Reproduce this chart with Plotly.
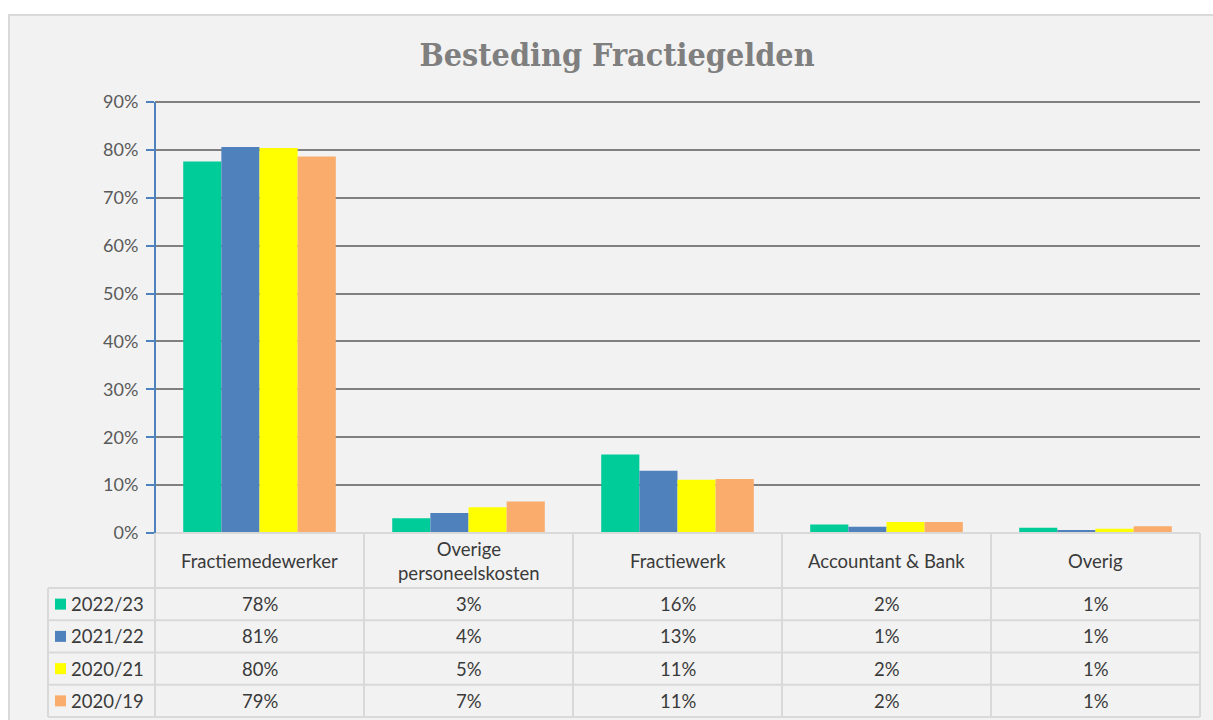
import plotly.graph_objects as go

# ---- data ----
categories = ["Fractiemedewerker", "Overige personeelskosten", "Fractiewerk",
              "Accountant & Bank", "Overig"]
category_labels = ["Fractiemedewerker", "Overige<br>personeelskosten", "Fractiewerk",
                   "Accountant & Bank", "Overig"]
series_names = ["2022/23", "2021/22", "2020/21", "2020/19"]
v_2022_23 = [0.776, 0.031, 0.164, 0.018, 0.011]
v_2021_22 = [0.806, 0.042, 0.130, 0.013, 0.006]
v_2020_21 = [0.804, 0.054, 0.111, 0.023, 0.009]
v_2020_19 = [0.786, 0.066, 0.113, 0.023, 0.014]
series_values = [v_2022_23, v_2021_22, v_2020_21, v_2020_19]
colors = ["#00cc99", "#4f81bd", "#ffff00", "#f9ac6b"]
y_ticks = [0, 0.1, 0.2, 0.3, 0.4, 0.5, 0.6, 0.7, 0.8, 0.9]

W, H = 1213, 720
def PX(x):
    return x / W
def PY(y):
    return 1 - y / H

PLOT_L, PLOT_R, PLOT_T, PLOT_B = 155, 1200, 102, 533
Y_MAX = 0.9
Y_TOP = 0.903  # tiny headroom so the 90% gridline is not clipped
PLOT_T_EXT = PLOT_B - (PLOT_B - PLOT_T) * Y_TOP / Y_MAX
LEG_L = 48
HEADER_B = 588
ROW_H = 32.25
TXT = "#3a3a3a"
BORDER = "#d9d9d9"
FONT = "Lato, 'Open Sans', sans-serif"
FS = 18.5

fig = go.Figure()
for name, vals, col in zip(series_names, series_values, colors):
    fig.add_trace(go.Bar(x=categories, y=vals, name=name, marker_color=col,
                         marker_line_width=0, showlegend=False))

shapes = []
# chart area background
shapes.append(dict(type="rect", xref="paper", yref="paper", x0=PX(9), x1=PX(1240),
                   y0=PY(740), y1=PY(15), fillcolor="#f2f2f2",
                   line=dict(color="#d9d9d9", width=2), layer="below"))

annotations = []
n = len(categories)
cw = (PLOT_R - PLOT_L) / n
# header row borders
shapes.append(dict(type="line", xref="paper", yref="paper", x0=PX(PLOT_L), x1=PX(PLOT_R),
                   y0=PY(PLOT_B), y1=PY(PLOT_B), line=dict(color=BORDER, width=2)))
table_bottom = HEADER_B + ROW_H * len(series_names)
for j in range(n + 1):
    xb = PLOT_L + j * cw
    shapes.append(dict(type="line", xref="paper", yref="paper", x0=PX(xb), x1=PX(xb),
                       y0=PY(PLOT_B), y1=PY(table_bottom), line=dict(color=BORDER, width=2)))
shapes.append(dict(type="line", xref="paper", yref="paper", x0=PX(LEG_L), x1=PX(LEG_L),
                   y0=PY(HEADER_B), y1=PY(table_bottom), line=dict(color=BORDER, width=2)))
for i in range(len(series_names) + 1):
    yb = HEADER_B + i * ROW_H
    shapes.append(dict(type="line", xref="paper", yref="paper", x0=PX(LEG_L), x1=PX(PLOT_R),
                       y0=PY(yb), y1=PY(yb), line=dict(color=BORDER, width=2)))

# category labels
for cat, lab in zip(categories, category_labels):
    annotations.append(dict(x=cat, xref="x", y=PY((PLOT_B + HEADER_B) / 2), yref="paper",
                            text=lab, showarrow=False, xanchor="center", yanchor="middle",
                            font=dict(family=FONT, size=FS, color=TXT)))
# rows
for i, (name, vals, col) in enumerate(zip(series_names, series_values, colors)):
    yc = HEADER_B + (i + 0.5) * ROW_H
    shapes.append(dict(type="rect", xref="paper", yref="paper", x0=PX(55), x1=PX(66),
                       y0=PY(yc + 5.5), y1=PY(yc - 5.5), fillcolor=col, line=dict(width=0)))
    annotations.append(dict(x=PX(69), xref="paper", y=PY(yc), yref="paper", text=name,
                            showarrow=False, xanchor="left", yanchor="middle",
                            font=dict(family=FONT, size=FS, color=TXT)))
    for cat, v in zip(categories, vals):
        annotations.append(dict(x=cat, xref="x", y=PY(yc), yref="paper", text=f"{v:.0%}",
                                showarrow=False, xanchor="center", yanchor="middle",
                                font=dict(family=FONT, size=FS, color=TXT)))

fig.update_layout(
    width=W, height=H, autosize=False,
    margin=dict(l=0, r=0, t=0, b=0, autoexpand=False),
    paper_bgcolor="white", plot_bgcolor="rgba(0,0,0,0)",
    title=dict(text="<b>Besteding Fractiegelden</b>", x=PX(617), xanchor="center",
               y=PY(55), yanchor="middle", automargin=False,
               font=dict(family="'DejaVu Serif Condensed', 'Liberation Serif', serif",
                         size=32, color="#7f7f7f")),
    barmode="group", bargap=0.27, bargroupgap=0,
    xaxis=dict(domain=[PX(PLOT_L), PX(PLOT_R)], range=[-0.5, n - 0.5], automargin=False,
               showticklabels=False, showgrid=False, zeroline=False, showline=False,
               ticks="", fixedrange=True),
    yaxis=dict(domain=[PY(PLOT_B), PY(PLOT_T_EXT)], range=[0, Y_TOP], tickvals=y_ticks,
               automargin=False,
               tickformat=".0%", showgrid=True, gridcolor="#808080", gridwidth=2,
               zeroline=True, zerolinecolor=BORDER, zerolinewidth=2,
               showline=False,
               ticks="outside", ticklen=8, tickwidth=2, tickcolor="#4f81bd",
               ticklabelstandoff=4,
               tickfont=dict(family=FONT, size=18, color="#595959"), fixedrange=True),
    shapes=shapes + [dict(type="line", xref="paper", yref="paper",
                          x0=PX(PLOT_L), x1=PX(PLOT_L), y0=PY(PLOT_B), y1=PY(PLOT_T),
                          line=dict(color="#4f81bd", width=2))],
    annotations=annotations,
)

fig.write_html("out.html")
